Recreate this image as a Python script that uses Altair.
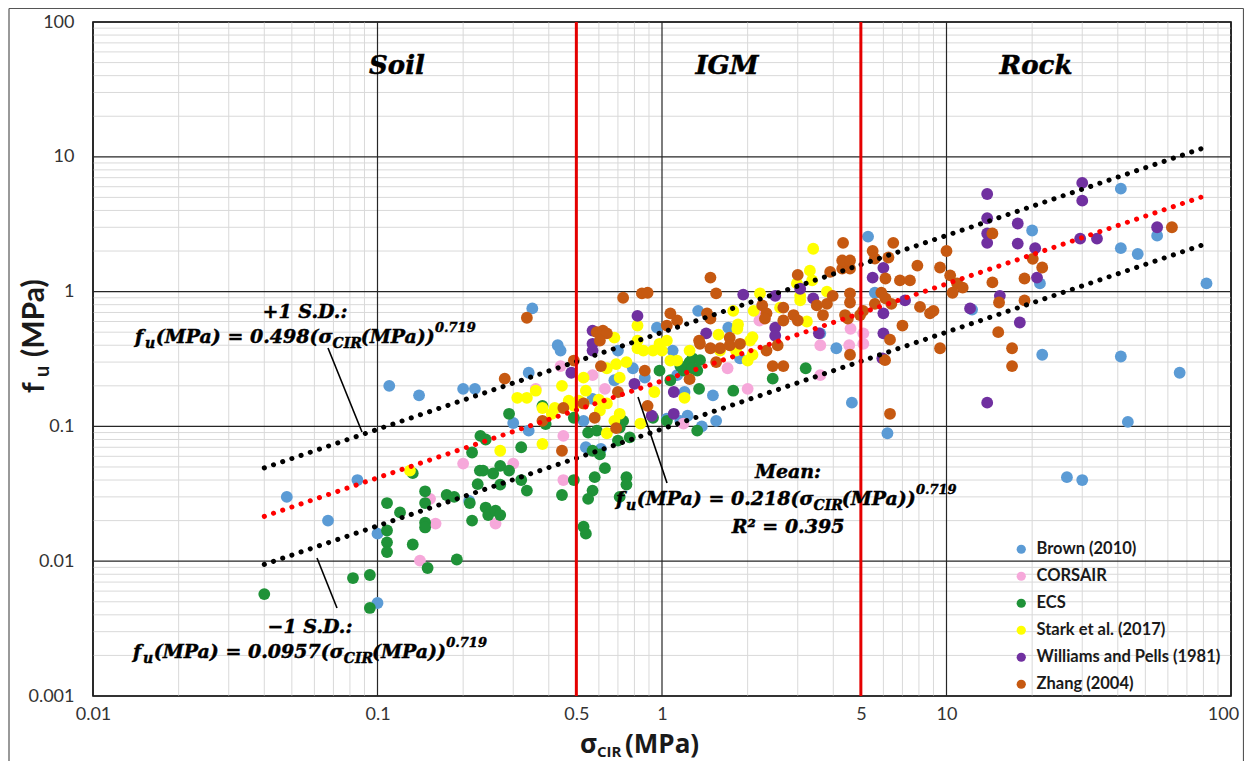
import altair as alt
import pandas as pd

# ---------------- data ----------------
series_names = ["Brown (2010)", "CORSAIR", "ECS", "Stark et al. (2017)",
                "Williams and Pells (1981)", "Zhang (2004)"]
series_colors = ["#5B9BD5", "#F6A8DA", "#1F9238", "#FFFF00", "#7030A0", "#C65911"]

brown = [(0.048, 0.030), (0.067, 0.020), (0.085, 0.040), (0.10, 0.016), (0.10, 0.0049),
         (0.11, 0.20), (0.14, 0.17), (0.20, 0.19), (0.22, 0.19), (0.21, 0.028),
         (0.35, 0.75), (0.43, 0.40), (0.44, 0.365), (0.34, 0.25), (0.30, 0.106),
         (0.34, 0.093), (0.54, 0.070), (0.61, 0.068), (0.70, 0.365), (0.68, 0.22),
         (0.79, 0.27), (0.87, 0.23), (0.96, 0.54), (1.09, 0.365), (1.13, 0.24),
         (1.2, 0.18), (1.34, 0.72), (1.71, 0.54), (1.51, 0.17), (1.04, 0.114),
         (1.23, 0.12), (1.38, 0.10), (1.55, 0.11), (0.57, 0.16), (0.53, 0.11),
         (5.3, 2.56), (1.88, 0.32), (3.6, 0.49), (4.1, 0.38), (4.65, 0.15),
         (1.16, 0.11), (5.6, 0.98), (20, 2.84), (21.3, 1.15), (41, 5.8),
         (41, 2.1), (47, 1.9), (55, 2.6), (82, 1.15), (21.7, 0.34),
         (41, 0.33), (66, 0.25), (43.4, 0.108), (6.2, 0.089), (12.3, 0.735),
         (26.5, 0.042), (30, 0.040)]

corsair = [(0.20, 0.053), (0.16, 0.019), (0.153, 0.029), (0.141, 0.0101), (0.26, 0.019),
           (0.30, 0.053), (0.36, 0.19), (0.45, 0.085), (0.45, 0.040), (0.57, 0.24),
           (0.63, 0.19), (1.19, 0.105), (2.0, 0.19), (2.2, 0.70), (1.7, 0.27),
           (3.6, 0.24), (4.6, 0.53), (4.55, 0.40), (5.1, 0.49), (5.1, 0.41),
           (2.2, 0.61), (3.6, 0.40), (0.44, 0.28)]

ecs = [(0.133, 0.045), (0.108, 0.027), (0.12, 0.023), (0.147, 0.033), (0.147, 0.027),
       (0.147, 0.0193), (0.147, 0.0178), (0.108, 0.0169), (0.108, 0.0138), (0.108, 0.0117),
       (0.133, 0.0133), (0.15, 0.0089), (0.094, 0.0079), (0.082, 0.0075), (0.040, 0.0057),
       (0.19, 0.0103), (0.175, 0.031), (0.186, 0.030), (0.094, 0.0045),
       (0.211, 0.027), (0.215, 0.020), (0.24, 0.025), (0.245, 0.022), (0.26, 0.0237),
       (0.23, 0.085), (0.215, 0.064), (0.229, 0.047), (0.225, 0.0373), (0.235, 0.047),
       (0.255, 0.0447), (0.27, 0.037), (0.29, 0.124), (0.32, 0.070), (0.32, 0.040),
       (0.335, 0.0334), (0.38, 0.142), (0.39, 0.104), (0.445, 0.031), (0.49, 0.040),
       (0.53, 0.018), (0.54, 0.016), (0.55, 0.090), (0.59, 0.093), (0.57, 0.066),
       (0.605, 0.062), (0.63, 0.049), (0.58, 0.042), (0.57, 0.0334), (0.55, 0.029),
       (0.75, 0.042), (0.75, 0.037), (0.70, 0.0785), (0.77, 0.083), (0.93, 0.116),
       (1.04, 0.11), (1.19, 0.26), (1.33, 0.093), (1.28, 0.32), (1.35, 0.19),
       (1.25, 0.30), (1.33, 0.26), (1.78, 0.184), (3.2, 0.27), (2.45, 0.226),
       (1.16, 0.28), (1.28, 0.27), (0.49, 0.116), (0.71, 0.098), (0.71, 0.030),
       (0.98, 0.259), (1.07, 0.22), (1.36, 0.31), (0.73, 0.11), (0.27, 0.051),
       (0.29, 0.047), (0.27, 0.022), (0.24, 0.08)]

stark = [(0.13, 0.047), (0.335, 0.163), (0.36, 0.184), (0.445, 0.20), (0.38, 0.137),
         (0.42, 0.137), (0.47, 0.155), (0.49, 0.142), (0.54, 0.184), (0.53, 0.148),
         (0.60, 0.158), (0.605, 0.131), (0.68, 0.11), (0.71, 0.124), (0.64, 0.148),
         (0.38, 0.074), (0.27, 0.066), (0.31, 0.163), (0.68, 0.456), (0.69, 0.29),
         (0.71, 0.23), (0.82, 0.433), (0.86, 0.365), (0.93, 0.365), (1.04, 0.433),
         (1.13, 0.308), (1.25, 0.365), (1.2, 0.163), (0.94, 0.18), (0.84, 0.105),
         (0.82, 0.56), (1.85, 0.57), (2.04, 0.433), (2.21, 0.97), (1.78, 0.72),
         (2.6, 0.76), (3.06, 0.86), (3.31, 1.43), (2.98, 1.15), (1.6, 0.365),
         (1.82, 0.365), (2.0, 0.308), (3.4, 2.08), (3.37, 1.21), (2.1, 0.72),
         (1.84, 0.53), (2.08, 0.46), (2.08, 0.34), (1.58, 0.48), (1.0, 0.365),
         (1.07, 0.308), (3.23, 0.60), (3.8, 1.0), (3.06, 0.93), (0.51, 0.155),
         (0.53, 0.23), (0.64, 0.27), (0.64, 0.089), (0.82, 0.38), (0.98, 0.41),
         (0.41, 0.124), (0.75, 0.30)]

williams = [(0.57, 0.514), (0.57, 0.365), (0.48, 0.25), (0.82, 0.66), (0.80, 0.207),
            (0.92, 0.12), (1.1, 0.124), (1.1, 0.18), (1.93, 0.95), (2.5, 0.93),
            (2.5, 0.54), (2.5, 0.47), (3.06, 1.05), (3.4, 0.89), (1.43, 0.49),
            (5.5, 1.27), (3.56, 0.49), (13.9, 5.3), (13.9, 3.5), (13.9, 2.7),
            (13.9, 2.3), (17.8, 3.2), (17.8, 2.27), (20.5, 2.1), (20.8, 1.27),
            (30, 6.4), (30, 4.73), (29.5, 2.47), (33.8, 2.47), (55, 3.0),
            (15.4, 0.93), (12.1, 0.75), (18.1, 0.59), (13.9, 0.15), (7.15, 0.86),
            (6.0, 1.5), (6.0, 0.69), (6.0, 0.49), (5.95, 0.32), (0.57, 0.41)]

zhang = [(0.335, 0.64), (0.28, 0.226), (0.38, 0.11), (0.45, 0.137), (0.445, 0.066),
         (0.49, 0.308), (0.53, 0.148), (0.59, 0.50), (0.62, 0.514), (0.64, 0.49),
         (0.61, 0.28), (0.605, 0.433), (0.69, 0.097), (0.70, 0.18), (0.73, 0.90),
         (0.85, 0.97), (0.89, 0.98), (0.87, 0.259), (0.89, 0.142), (1.07, 0.69),
         (1.13, 0.61), (1.04, 0.56), (1.35, 0.433), (1.25, 0.224), (0.58, 0.116),
         (1.48, 1.27), (1.55, 0.97), (1.44, 0.69), (1.48, 0.63), (1.36, 0.41),
         (1.48, 0.38), (1.6, 0.38), (1.73, 0.455), (1.73, 0.40), (1.88, 0.41),
         (1.55, 0.30), (2.25, 0.79), (2.33, 0.69), (2.3, 0.63), (2.67, 0.76),
         (2.67, 0.61), (2.9, 0.67), (3.0, 0.61), (2.33, 0.365), (2.55, 0.40),
         (2.45, 0.28), (2.67, 0.28), (3.0, 1.33), (3.5, 0.79), (3.68, 0.67),
         (3.8, 0.81), (3.98, 0.93), (3.9, 1.4), (4.3, 1.48), (4.58, 1.48),
         (4.33, 2.3), (4.3, 1.70), (4.58, 1.70), (5.5, 2.0), (5.6, 1.76),
         (4.58, 0.97), (4.58, 0.83), (4.4, 0.67), (4.5, 0.63), (4.97, 0.67),
         (4.58, 0.34), (6.5, 2.3), (6.25, 1.79), (7.9, 1.56), (9.49, 1.51),
         (10, 2.0), (10.3, 1.32), (10.9, 1.15), (11.4, 1.07), (10.5, 0.98),
         (6.86, 1.21), (7.44, 1.21), (6.1, 1.25), (5.9, 0.98), (6.1, 0.89),
         (5.6, 0.81), (6.4, 0.81), (8.07, 0.77), (8.75, 0.69), (9.0, 0.72),
         (7.0, 0.56), (6.33, 0.44), (6.08, 0.31), (9.49, 0.38), (14.5, 2.7),
         (14.5, 1.17), (18.8, 1.25), (15.2, 0.50), (15.3, 0.83), (18.8, 0.86),
         (17.0, 0.38), (17.0, 0.28), (20.1, 1.75), (21.7, 1.51), (6.33, 0.124),
         (62, 3.0), (5.09, 0.72)]

# trend lines (end points of the plotted fits)
trend_x = [0.04, 84]
trend_upper = [0.0492, 12.05]
trend_mean = [0.0215, 5.27]
trend_lower = [0.00946, 2.31]

x_ticks = [0.01, 0.1, 0.5, 1, 5, 10, 100]
y_ticks = [0.001, 0.01, 0.1, 1, 10, 100]
decades_x = [0.01, 0.1, 1, 10, 100]
decades_y = [0.001, 0.01, 0.1, 1, 10, 100]
minor_x = [k * d for d in [0.01, 0.1, 1, 10] for k in range(2, 10)]
minor_y = [k * d for d in [0.001, 0.01, 0.1, 1, 10] for k in range(2, 10)]
boundaries = [0.5, 5]

# ---------------- build tables ----------------
rows = []
for name, pts in zip(series_names, [brown, corsair, ecs, stark, williams, zhang]):
    for (sx, fy) in pts:
        rows.append({"sigma": sx, "fu": fy, "source": name, "ord": len(rows)})
pts_df = pd.DataFrame(rows)

trend_df = pd.DataFrame(
    [{"sigma": x, "fu": y, "line": "upper"} for x, y in zip(trend_x, trend_upper)]
    + [{"sigma": x, "fu": y, "line": "lower"} for x, y in zip(trend_x, trend_lower)])
mean_df = pd.DataFrame([{"sigma": x, "fu": y} for x, y in zip(trend_x, trend_mean)])

# ---------------- scales / axes ----------------
W, H = 1138, 674
OX, OY = 93, 22   # plot origin on the page
xs = alt.Scale(type="log", domain=[0.01, 100], nice=False)
ys = alt.Scale(type="log", domain=[0.001, 100], nice=False)
x_axis = alt.Axis(values=x_ticks, labelExpr="format(datum.value, '~g')", grid=False,
                  ticks=False, tickSize=0, domain=False, labelFont="Lato",
                  labelFontSize=18, labelColor="#333333", labelPadding=9,
                  labelOffset={"condition": {"test": "datum.value >= 100", "value": -8},
                               "value": 0},
                  labelOverlap=False, labelFlush=False, title=None)
y_axis = alt.Axis(values=y_ticks, labelExpr="format(datum.value, '~g')", grid=False,
                  ticks=False, tickSize=0, domain=False, labelFont="Lato",
                  labelFontSize=18, labelColor="#333333", labelPadding=19,
                  labelOverlap=False, labelFlush=False, title=None)

minor_xl = alt.Chart(pd.DataFrame({"v": minor_x})).mark_rule(
    color="#d9d9d9", strokeWidth=1).encode(x=alt.X("v:Q", scale=xs, axis=x_axis))
minor_yl = alt.Chart(pd.DataFrame({"v": minor_y})).mark_rule(
    color="#d9d9d9", strokeWidth=1).encode(y=alt.Y("v:Q", scale=ys, axis=y_axis))
major_xl = alt.Chart(pd.DataFrame({"v": decades_x})).mark_rule(
    color="#262626", strokeWidth=1.2).encode(x=alt.X("v:Q", scale=xs, axis=x_axis))
major_yl = alt.Chart(pd.DataFrame({"v": decades_y})).mark_rule(
    color="#262626", strokeWidth=1.2).encode(y=alt.Y("v:Q", scale=ys, axis=y_axis))

legend = alt.Legend(orient="none", legendX=920, legendY=519, title=None,
                    symbolType="circle", symbolSize=85, symbolStrokeWidth=0,
                    symbolOpacity=1, labelFont="Lato", labelFontSize=16.5,
                    labelFontWeight="bold", labelColor="#1a1a1a", labelOffset=7,
                    labelLimit=400, rowPadding=10, padding=0)

points = alt.Chart(pts_df).mark_circle(size=140, opacity=1).encode(
    x=alt.X("sigma:Q", scale=xs, axis=x_axis),
    y=alt.Y("fu:Q", scale=ys, axis=y_axis),
    color=alt.Color("source:N", scale=alt.Scale(domain=series_names, range=series_colors),
                    legend=legend),
    order=alt.Order("ord:Q"))

dots = dict(strokeDash=[0.1, 9.6], strokeCap="round", strokeWidth=5)
sd_lines = alt.Chart(trend_df).mark_line(color="black", **dots).encode(
    x=alt.X("sigma:Q", scale=xs, axis=x_axis),
    y=alt.Y("fu:Q", scale=ys, axis=y_axis),
    detail="line:N")
mean_line = alt.Chart(mean_df).mark_line(color="#ff0000", **dots).encode(
    x=alt.X("sigma:Q", scale=xs, axis=x_axis),
    y=alt.Y("fu:Q", scale=ys, axis=y_axis))

red_lines = alt.Chart(pd.DataFrame({"v": boundaries})).mark_rule(
    color="#e50000", strokeWidth=3).encode(x=alt.X("v:Q", scale=xs, axis=x_axis))

# ---------------- annotation text ----------------
GW = {' ': 0.348, '(': 0.473, ')': 0.473, 'M': 1.05, 'P': 0.76, 'a': 0.68, '=': 0.838,
      '.': 0.38, 'σ': 0.70, 'f': 0.48, 'u': 0.76, 'C': 0.73, 'I': 0.47, 'R': 0.81}


def tw(s, fs):
    return sum(GW.get(c, 0.696) for c in s) * fs


MAIN, SUB, SUP = 19, 14, 13


def equation(coef, x0, y0, center=False):
    pieces = [("f", 0, MAIN), ("u", 7, SUB), ("(MPa) = " + coef + "(σ", 0, MAIN),
              ("CIR", 7, SUB), ("(MPa))", 0, MAIN), ("0.719", -9, SUP)]
    total = sum(tw(t, s) for t, _, s in pieces) + 2
    x = x0 - total / 2 if center else x0
    out = []
    for t, dy, s in pieces:
        out.append({"text": t, "px": x - OX, "py": y0 + dy - OY, "fs": s})
        x += tw(t, s) + (1 if t == "f" else 0)
    return out


eq_rows = equation("0.498", 135, 337) + equation("0.0957", 133, 652) + \
    equation("0.218", 787, 499, center=True)
eq_df = pd.DataFrame(eq_rows)

center_rows = [
    {"text": "Soil", "px": 397 - OX, "py": 66 - OY, "fs": 26},
    {"text": "IGM", "px": 727 - OX, "py": 66 - OY, "fs": 26},
    {"text": "Rock", "px": 1036 - OX, "py": 66 - OY, "fs": 26},
    {"text": "+1 S.D.:", "px": 305 - OX, "py": 312 - OY, "fs": MAIN},
    {"text": "\u22121 S.D.:", "px": 310 - OX, "py": 627 - OY, "fs": MAIN},
    {"text": "Mean:", "px": 788 - OX, "py": 472 - OY, "fs": MAIN},
    {"text": "R\u00b2 = 0.395", "px": 788 - OX, "py": 527 - OY, "fs": MAIN},
]
center_df = pd.DataFrame(center_rows)

serif = dict(font="DejaVu Serif", fontStyle="italic", fontWeight="bold",
             baseline="middle", color="black", stroke="black", strokeWidth=0.45)
eq_text = alt.Chart(eq_df).mark_text(align="left", **serif).encode(
    x=alt.X("px:Q", scale=None), y=alt.Y("py:Q", scale=None),
    text="text:N", size=alt.Size("fs:Q", scale=None, legend=None))
center_text = alt.Chart(center_df).mark_text(align="center", **serif).encode(
    x=alt.X("px:Q", scale=None), y=alt.Y("py:Q", scale=None),
    text="text:N", size=alt.Size("fs:Q", scale=None, legend=None))

# pointer lines
ptr_df = pd.DataFrame([
    {"a": 328 - OX, "b": 348 - OY, "c": 362 - OX, "d": 432 - OY},
    {"a": 317 - OX, "b": 558 - OY, "c": 337 - OX, "d": 608 - OY},
    {"a": 638 - OX, "b": 397 - OY, "c": 667 - OX, "d": 483 - OY},
])
pointers = alt.Chart(ptr_df).mark_rule(color="black", strokeWidth=1.6).encode(
    x=alt.X("a:Q", scale=None), y=alt.Y("b:Q", scale=None),
    x2="c:Q", y2="d:Q")

# axis titles (composed so that subscripts can be drawn)
xt_df = pd.DataFrame([
    {"text": "σ", "px": 580 - OX, "py": 745 - OY, "fs": 26},
    {"text": "CIR", "px": 597 - OX, "py": 752 - OY, "fs": 15},
    {"text": "(MPa)", "px": 625 - OX, "py": 745 - OY, "fs": 26},
])
x_title = alt.Chart(xt_df).mark_text(align="left", baseline="middle", font="Open Sans",
                                     fontWeight="bold", color="#1a1a1a").encode(
    x=alt.X("px:Q", scale=None), y=alt.Y("py:Q", scale=None),
    text="text:N", size=alt.Size("fs:Q", scale=None, legend=None))
yt_df = pd.DataFrame([
    {"text": "f", "px": 35 - OX, "py": 393 - OY, "fs": 30},
    {"text": "u", "px": 43 - OX, "py": 377 - OY, "fs": 20},
    {"text": "(MPa)", "px": 35 - OX, "py": 357 - OY, "fs": 30},
])
y_title = alt.Chart(yt_df).mark_text(align="left", baseline="middle", font="Lato",
                                     fontWeight="bold", angle=270, color="#1a1a1a").encode(
    x=alt.X("px:Q", scale=None), y=alt.Y("py:Q", scale=None),
    text="text:N", size=alt.Size("fs:Q", scale=None, legend=None))

# outer frame of the figure (left, top, right)
frame_df = pd.DataFrame([
    {"a": 9 - OX, "b": 8.5 - OY, "c": 9 - OX, "d": 761 - OY},
    {"a": 9 - OX, "b": 8.5 - OY, "c": 1243.5 - OX, "d": 8.5 - OY},
    {"a": 1243.5 - OX, "b": 8.5 - OY, "c": 1243.5 - OX, "d": 761 - OY},
])
frame = alt.Chart(frame_df).mark_rule(color="#555555", strokeWidth=1.2).encode(
    x=alt.X("a:Q", scale=None), y=alt.Y("b:Q", scale=None),
    x2="c:Q", y2="d:Q")

chart = alt.layer(
    minor_xl, minor_yl, major_xl, major_yl,
    points, sd_lines, mean_line, red_lines,
    pointers, eq_text, center_text, x_title, y_title, frame
).properties(
    width=W, height=H,
    padding={"left": OX - 8, "top": OY - 8, "right": 13, "bottom": 65},
    autosize=alt.AutoSizeParams(type="none"),
    background="white",
).configure_view(stroke="black", strokeWidth=1.6)

chart.save("out.html", embed_options={"renderer": "svg", "actions": False})
